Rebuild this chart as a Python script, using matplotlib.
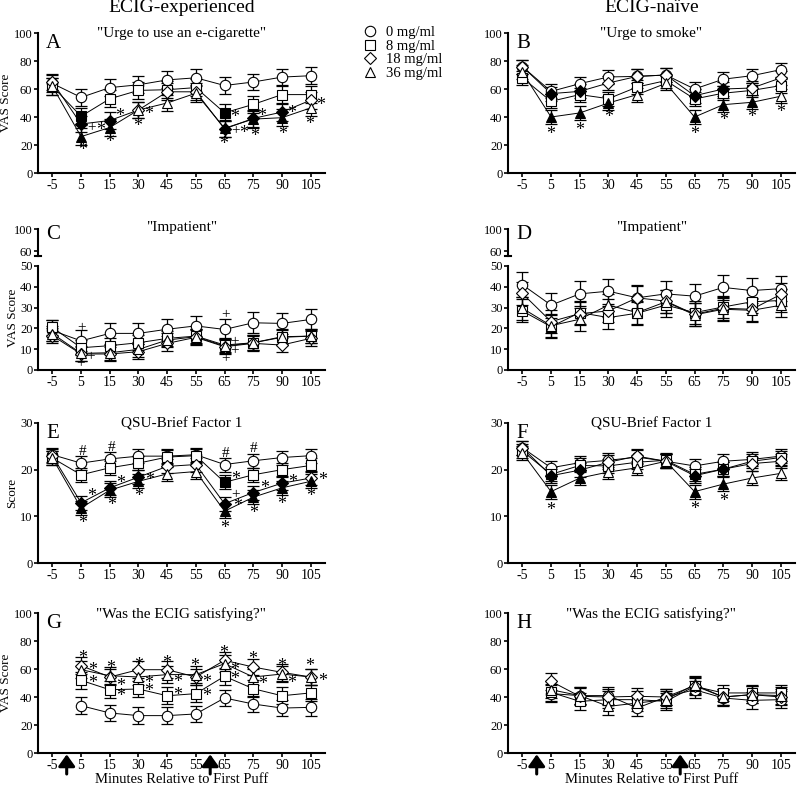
import numpy as np
import matplotlib.pyplot as plt
from matplotlib.lines import Line2D

plt.rcParams['font.family'] = ['Liberation Serif', 'DejaVu Serif']

W, H = 800, 786

times = ['-5', '5', '15', '30', '45', '55', '65', '75', '90', '105']
doses = ['0 mg/ml', '8 mg/ml', '18 mg/ml', '36 mg/ml']
markers = ['o', 's', 'D', '^']
msizes = [7.5, 6.5, 6.5, 7.5]

# A: "Urge to use an e-cigarette" (ECIG-experienced)
a_mean = [[64, 54, 61, 63, 66.5, 68, 62.5, 65, 68.5, 69.5],
          [62, 40.5, 53, 59, 59.5, 61, 43, 49, 56, 56],
          [65, 35, 37.5, 45, 58, 58, 31.5, 39, 43.5, 52],
          [62, 26, 32.5, 45, 50, 57, 32, 38.5, 39.5, 46.5]]
a_sem = [6, 6, 6, 6]
a_filled = [[], [1, 6], [1, 2, 6, 7, 8], [1, 2, 6, 7, 8]]
a_marks = [(1.04, 18.3, '*'), (1.38, 32.4, '+'), (1.67, 33, '*'),
           (2.33, 42.8, '*'), (1.98, 24.3, '*'), (3.34, 44.5, '*'),
           (2.97, 35.5, '*'), (6.34, 41.9, '*'), (5.97, 22.9, '*'),
           (6.38, 30, '+'), (6.65, 30.7, '*'), (7.3, 42.6, '*'),
           (7.06, 28.8, '*'), (8.33, 45, '*'), (8.01, 30.2, '*'),
           (9.34, 51, '*'), (8.96, 37.1, '*')]

# B: "Urge to smoke" (ECIG-naive)
b_mean = [[76, 58.3, 63.8, 68.6, 69, 70, 60, 67, 69.5, 73.8],
          [68, 51.2, 56, 53.1, 61.4, 66, 52.9, 57, 59, 62.4],
          [76, 56.7, 58.3, 64.3, 69, 70, 55.2, 60, 60.7, 67.9],
          [72, 40, 42.9, 50, 56, 64, 40, 48.8, 50.5, 54.8]]
b_sem = [5, 5, 5, 5]
b_filled = [[], [], [1, 2, 6, 7], [1, 2, 3, 6, 7, 8]]
b_marks = [(0.99, 30.2, '*'), (2.0, 32.6, '*'), (3.02, 41.9, '*'),
           (6.02, 30.2, '*'), (7.01, 39.8, '*'), (8.0, 42.1, '*'),
           (9.0, 45.5, '*')]

# C: "Impatient" (ECIG-experienced)
c_mean = [[19, 14, 17.6, 17.6, 19.6, 21.2, 19.5, 22.7, 22.4, 24.3],
          [20.5, 10.7, 11.7, 13.1, 15.2, 16.3, 12, 13.1, 16, 16.3],
          [16.5, 7.7, 7.7, 8.8, 12.8, 15.7, 11.2, 12.8, 12, 15.2],
          [17.5, 8, 8.3, 9.9, 14.4, 16, 11.5, 13.1, 15.7, 16.3]]
c_sem = [5, 3.5, 3.5, 3.5]
c_filled = [[], [], [], []]
c_marks = [(1.01, 20.3, '+'), (1.33, 6.4, '+'), (0.98, 3.2, '+'),
           (6.03, 26.4, '+'), (6.34, 13.6, '+'), (6.34, 9.3, '+'),
           (6.03, 5.6, '+')]

# D: "Impatient" (ECIG-naive)
d_mean = [[41, 31.2, 36.6, 37.9, 34.7, 36.6, 35.5, 39.7, 38.2, 39.1],
          [28.4, 20.8, 27.6, 25.2, 27.3, 31.2, 27.6, 30.3, 32.8, 33.4],
          [36.8, 23.3, 27.1, 28.4, 34.7, 33.1, 26.8, 29.7, 29.2, 36.3],
          [29.7, 21.3, 24.4, 31.2, 27.6, 32.8, 26.5, 29.2, 28.7, 31.1]]
d_sem = [6, 5.5, 5.5, 5.5]
d_filled = [[], [], [], []]
d_marks = []

# E: QSU-Brief Factor 1 (ECIG-experienced)
e_mean = [[23.2, 21.4, 22.3, 22.9, 22.9, 23.2, 21.1, 21.9, 22.6, 23],
          [22.5, 18.9, 20.4, 21.4, 22.7, 23, 17.3, 18.9, 20, 20.9],
          [23, 12.9, 16.1, 18.4, 20.7, 21.1, 12.7, 15.1, 17.1, 18.2],
          [22.5, 11.8, 15.6, 17.5, 19.1, 19.6, 11.1, 14.1, 16.1, 17.5]]
e_sem = [1.5, 1.5, 1.5, 1.5]
e_filled = [[], [6], [1, 2, 3, 6, 7, 8], [1, 2, 3, 6, 7, 8, 9]]
e_marks = [(1.06, 23.9, '#'), (2.05, 24.8, '#'), (6.02, 23.5, '#'),
           (7.0, 24.6, '#'), (1.36, 14.9, '*'), (1.06, 9.2, '*'),
           (2.39, 17.8, '*'), (2.05, 13, '*'), (3.38, 18.4, '*'),
           (3.0, 15.1, '*'), (6.4, 18.6, '*'), (6.38, 14.7, '+'),
           (6.45, 12.8, '*'), (6.0, 8.1, '*'), (7.4, 16.7, '*'),
           (7.0, 11.4, '*'), (8.36, 18.1, '*'), (8.0, 13.3, '*'),
           (9.42, 18.5, '*'), (9.0, 14.9, '*')]

# F: QSU-Brief Factor 1 (ECIG-naive)
f_mean = [[24.7, 20.4, 21.5, 22, 22.7, 21.8, 20.8, 21.8, 22.2, 22.9],
          [24, 19, 20.9, 20.8, 21.6, 22, 19, 20.1, 21.8, 22.6],
          [24.7, 18.7, 19.9, 21.6, 22.9, 21.8, 18.7, 20.1, 21.3, 21.8],
          [23.6, 15.3, 18.2, 19.5, 20.4, 21.8, 15.3, 16.9, 18.2, 19.2]]
f_sem = [1.5, 1.5, 1.5, 1.5]
f_filled = [[], [], [1, 2, 6, 7], [1, 2, 6, 7]]
f_marks = [(1.0, 12.1, '*'), (6.0, 12.3, '*'), (7.0, 14, '*')]

# G: "Was the ECIG satisfying?" (ECIG-experienced), no -5 value
g_mean = [[33.8, 28.6, 26.7, 26.7, 27.9, 39.3, 35, 32.1, 32.6],
          [51.9, 45.2, 45.7, 40.9, 42.4, 54.8, 45.9, 40.9, 42.9],
          [62.4, 54.3, 59.5, 59.5, 54.3, 66.2, 61.4, 57.6, 54.3],
          [59.5, 55.2, 54.3, 56, 56, 63.8, 54.3, 56.4, 54.3]]
g_sem = [6, 6, 6, 6]
g_filled = [[], [], [], []]
g_marks = [(1.04, 70, '*'), (1.4, 61.2, '*'), (1.4, 52.1, '*'),
           (2.03, 62.9, '*'), (2.39, 50.2, '*'), (2.39, 42.6, '*'),
           (3.02, 65.2, '*'), (3.35, 52.1, '*'), (3.35, 46.2, '*'),
           (3.99, 66.4, '*'), (4.38, 52.6, '*'), (4.38, 43.8, '*'),
           (4.97, 64.5, '*'), (5.37, 52.6, '*'), (5.37, 42.6, '*'),
           (5.97, 73.6, '*'), (6.34, 61.2, '*'), (6.34, 55, '*'),
           (6.99, 69.3, '*'), (7.33, 51.7, '*'),
           (7.99, 64.5, '*'), (8.32, 52.1, '*'),
           (8.97, 64.5, '*'), (9.41, 53.3, '*')]

# H: "Was the ECIG satisfying?" (ECIG-naive)
h_mean = [[42.4, 41, 41, 32.1, 40, 45.2, 39.3, 37.6, 38.1],
          [43.3, 36.9, 38.1, 38.1, 36.9, 47.6, 42.9, 42.9, 42.9],
          [51.2, 40.5, 40, 40.5, 40, 48.1, 40, 41.7, 40],
          [45.2, 41, 33.3, 35.7, 38.1, 48.8, 40, 41.7, 41]]
h_sem = [6, 6, 6, 6]
h_filled = [[], [], [], []]
h_marks = []


def rect(left, top, right, bottom):
    return [left / W, 1 - bottom / H, (right - left) / W, (bottom - top) / H]


def style(ax, ylim, yticks):
    for s in ['top', 'right']:
        ax.spines[s].set_visible(False)
    for s in ['left', 'bottom']:
        ax.spines[s].set_linewidth(1.5)
    ax.set_xlim(-0.5, 9.5)
    ax.set_ylim(*ylim)
    ax.set_yticks(yticks)
    ax.set_xticks(range(len(times)))
    ax.set_xticklabels(times)
    ax.tick_params(direction='out', length=3, width=1.2, labelsize=10, pad=1)
    ax.tick_params(axis='y', labelsize=9)
    ax.patch.set_alpha(0)


def draw(ax, mean, sem, filled, marks):
    start = len(times) - len(mean[0])
    x = np.arange(start, len(times))
    for i in range(4):
        y = np.array(mean[i], dtype=float)
        ax.errorbar(x, y, yerr=sem[i], fmt='none', ecolor='black',
                    elinewidth=0.9, capsize=4, capthick=0.9, zorder=2 + i)
        ax.plot(x, y, '-', color='black', lw=0.7, zorder=2 + i)
        for xx, yy in zip(x, y):
            face = 'black' if xx in filled[i] else 'white'
            ax.plot(xx, yy, marker=markers[i], ms=msizes[i], mfc=face,
                    mec='black', mew=0.8, zorder=6 + i, clip_on=False)
    for xx, yy, t in marks:
        fs = 13 if t == '*' else 11
        dy = -2.5 if t == '*' else 0
        ax.text(xx, yy + dy * (ax.get_ylim()[1] / 100), t, ha='center',
                va='center', fontsize=fs, zorder=12)


fig = plt.figure(figsize=(W / 100, H / 100), dpi=100)

cols = [(38, 325), (508, 795)]
rows = [(33, 173), (266, 370), (423, 563), (613, 753)]

panels = [
    (0, 0, a_mean, a_sem, a_filled, a_marks, (0, 100), range(0, 101, 20), '"Urge to use an e-cigarette"', 'A', 'VAS Score'),
    (0, 1, b_mean, b_sem, b_filled, b_marks, (0, 100), range(0, 101, 20), '"Urge to smoke"', 'B', None),
    (1, 0, c_mean, c_sem, c_filled, c_marks, (0, 50), range(0, 51, 10), '"Impatient"', 'C', 'VAS Score'),
    (1, 1, d_mean, d_sem, d_filled, d_marks, (0, 50), range(0, 51, 10), '"Impatient"', 'D', None),
    (2, 0, e_mean, e_sem, e_filled, e_marks, (0, 30), range(0, 31, 10), 'QSU-Brief Factor 1', 'E', 'Score'),
    (2, 1, f_mean, f_sem, f_filled, f_marks, (0, 30), range(0, 31, 10), 'QSU-Brief Factor 1', 'F', None),
    (3, 0, g_mean, g_sem, g_filled, g_marks, (0, 100), range(0, 101, 20), '"Was the ECIG satisfying?"', 'G', 'VAS Score'),
    (3, 1, h_mean, h_sem, h_filled, h_marks, (0, 100), range(0, 101, 20), '"Was the ECIG satisfying?"', 'H', None),
]

for r, c, mean, sem, filled, marks, ylim, yt, title, letter, ylab in panels:
    l, rr = cols[c]
    top, bot = rows[r]
    ax = fig.add_axes(rect(l, top, rr, bot))
    style(ax, ylim, yt)
    draw(ax, mean, sem, filled, marks)
    if ylab:
        ax.set_ylabel(ylab, fontsize=9.5, labelpad=1)
    if r == 1:
        # broken axis: upper stub 60-100
        up = fig.add_axes(rect(l, 229, rr, 256))
        up.set_xlim(-0.5, 9.5)
        up.set_ylim(51, 100)
        up.set_yticks([60, 100])
        for s in ['top', 'right', 'bottom']:
            up.spines[s].set_visible(False)
        up.spines['left'].set_linewidth(1.5)
        up.set_xticks([])
        up.tick_params(direction='out', length=3, width=1.2, labelsize=9, pad=1)
        up.plot([-0.5 - 0.12, -0.5 + 0.12], [51, 51], color='black', lw=1.5, clip_on=False)
        up.patch.set_alpha(0)
        fig.text((l + rr) / 2 / W, 1 - 228 / H, title, ha='center', va='center', fontsize=11)
        fig.text((l + 8) / W, 1 - 235 / H, letter, ha='left', va='center', fontsize=15)
    else:
        fig.text((l + rr) / 2 / W, 1 - (top + 1) / H, title, ha='center', va='center', fontsize=11)
        fig.text((l + 8) / W, 1 - (top + 10) / H, letter, ha='left', va='center', fontsize=15)
    if r == 3:
        ax.set_xlabel('Minutes Relative to First Puff', fontsize=10.5, labelpad=1)
        for xa in [0.5, 5.5]:
            ax.annotate('', xy=(xa, -0.01), xytext=(xa, -0.15),
                        xycoords=ax.get_xaxis_transform(),
                        arrowprops=dict(arrowstyle='-|>,head_width=0.5,head_length=0.7',
                                        color='black', lw=2.2, shrinkA=0, shrinkB=0))

fig.text(182 / W, 1 - 8 / H, 'ECIG-experienced', ha='center', va='center', fontsize=14)
fig.text(652 / W, 1 - 8 / H, 'ECIG-naïve', ha='center', va='center', fontsize=14)

handles = [Line2D([], [], ls='none', marker=m, ms=s, mfc='white', mec='black', mew=0.8)
           for m, s in zip(markers, msizes)]
fig.legend(handles, doses, loc='upper left', bbox_to_anchor=(363 / W, 1 - 26 / H),
           frameon=False, fontsize=10.5, handlelength=1.0, handletextpad=0.6,
           labelspacing=0.02, borderpad=0, borderaxespad=0)

fig.savefig('out.png', dpi=100)
